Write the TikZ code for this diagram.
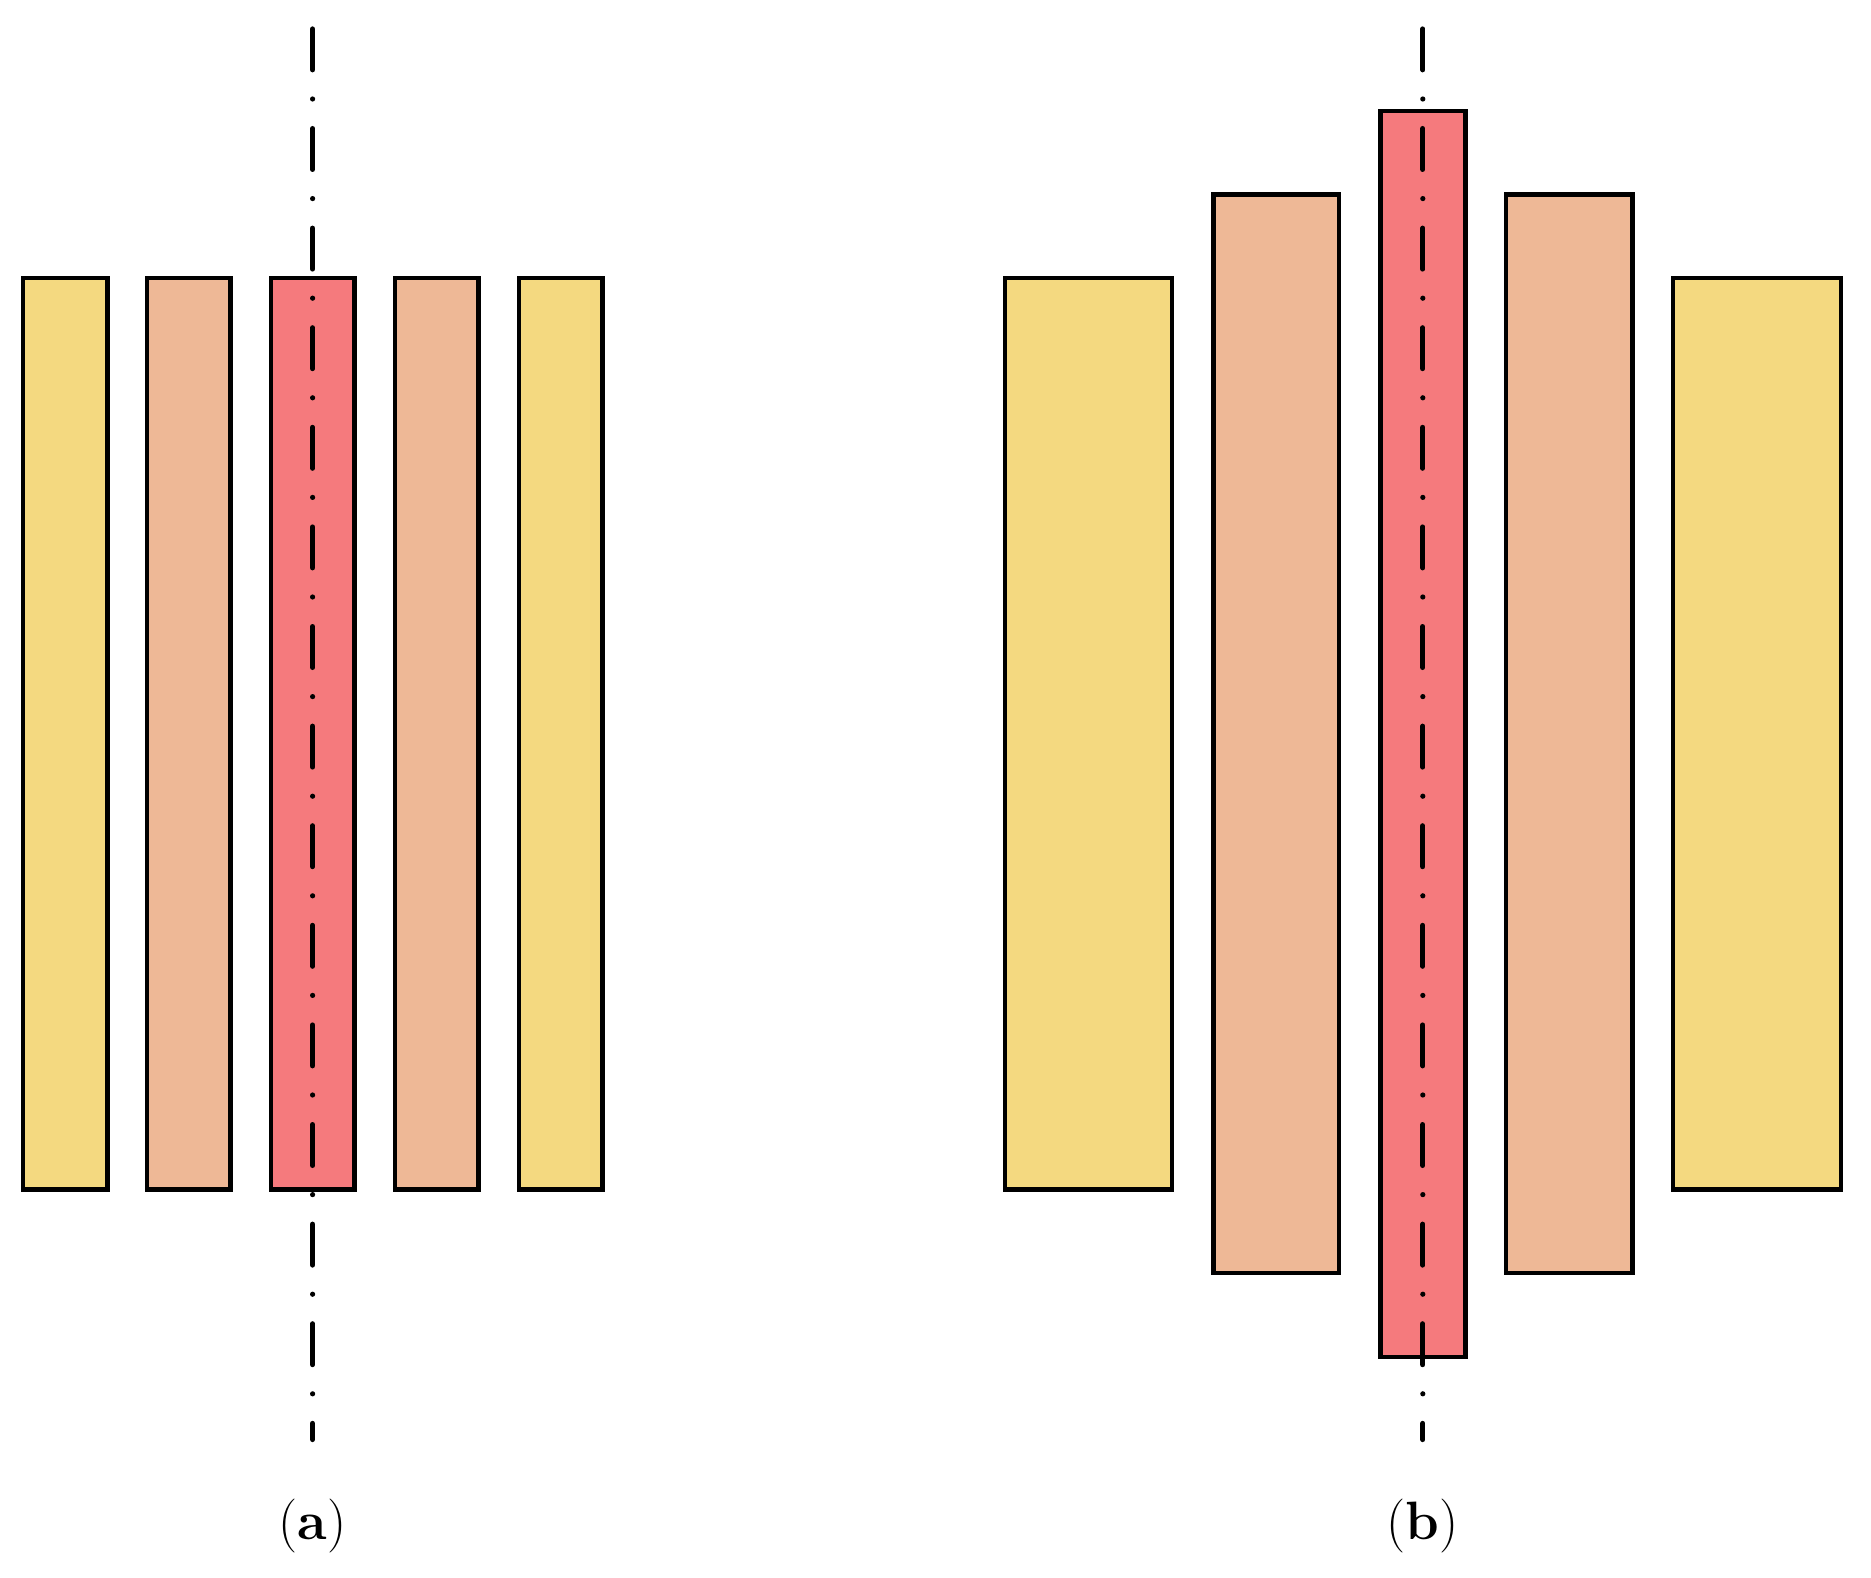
\documentclass[tikz,border=0pt]{standalone}
\definecolor{cyel}{RGB}{244,217,128}
\definecolor{cpeach}{RGB}{238,184,150}
\definecolor{cred}{RGB}{245,122,125}
\begin{document}
\begin{tikzpicture}[x=0.5pt,y=-0.5pt,
  bar/.style={draw=black,line width=2.2pt},
  yel/.style={bar,fill=cyel},
  pch/.style={bar,fill=cpeach},
  rd/.style={bar,fill=cred},
  axisline/.style={line width=2.6pt,line cap=round,dash pattern=on 20.4pt off 14.6pt on 0pt off 14.8pt},
  lbl/.style={font=\fontsize{27}{32}\selectfont}]
\useasboundingbox (0,0) rectangle (1871,1577);
% (a)
\draw[yel] (22.7,278) rectangle (107.4,1189.6);
\draw[pch] (146.8,278) rectangle (230.3,1189.6);
\draw[rd]  (270.9,278) rectangle (354.4,1189.6);
\draw[pch] (395,278) rectangle (478.5,1189.6);
\draw[yel] (519,278) rectangle (602.6,1189.6);
\coordinate (a1) at (312.6,29);
\coordinate (a2) at (312.6,1439.5);
\draw[axisline] (a1) -- (a2);
\node[lbl] (la) at (312.6,1526) {(\textbf{a})};
% (b)
\draw[yel] (1004.7,278) rectangle (1171.7,1189.6);
\draw[pch] (1213.5,194.5) rectangle (1338.8,1273.1);
\draw[rd]  (1380.5,111) rectangle (1465.3,1356.7);
\draw[pch] (1505.8,194.5) rectangle (1632.3,1273.1);
\draw[yel] (1672.9,278) rectangle (1841.1,1189.6);
\coordinate (b1) at (1422.8,29);
\coordinate (b2) at (1422.8,1439.5);
\draw[axisline] (b1) -- (b2);
\node[lbl] (lb) at (1422.8,1526) {(\textbf{b})};
\end{tikzpicture}
\end{document}
